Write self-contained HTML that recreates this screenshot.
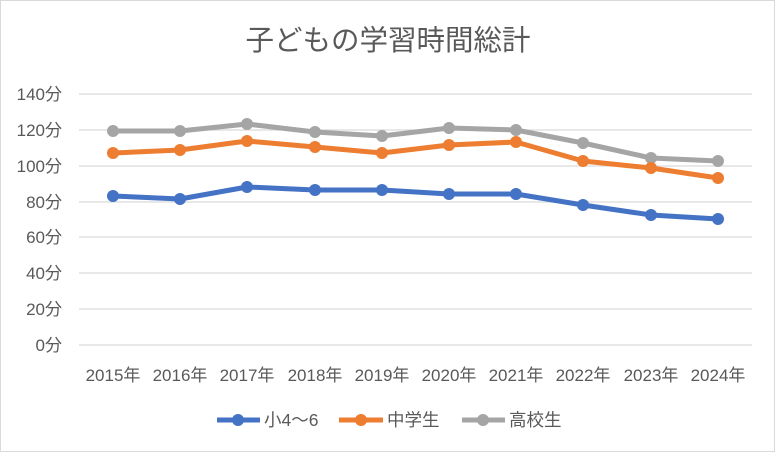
<!DOCTYPE html>
<html><head><meta charset="utf-8"><style>
body{margin:0;background:#fff}
svg{display:block;font-family:"Liberation Sans","Noto Sans CJK JP",sans-serif}
</style></head><body>
<svg width="775" height="452" viewBox="0 0 775 452">
<rect x="0.5" y="0.5" width="774" height="451" fill="#fff" stroke="#d9d9d9"/>
<text x="388" y="50" text-anchor="middle" font-size="28.5" fill="#595959">子どもの学習時間総計</text>
<g stroke="#d9d9d9" stroke-width="1.3">
<line x1="79" x2="752" y1="94" y2="94"/><line x1="79" x2="752" y1="130" y2="130"/>
<line x1="79" x2="752" y1="166" y2="166"/><line x1="79" x2="752" y1="202" y2="202"/>
<line x1="79" x2="752" y1="237" y2="237"/><line x1="79" x2="752" y1="273" y2="273"/>
<line x1="79" x2="752" y1="309" y2="309"/><line x1="79" x2="752" y1="345" y2="345"/>
</g>
<g font-size="17" fill="#595959" text-anchor="end">
<text x="62" y="100">140分</text><text x="62" y="136">120分</text><text x="62" y="172">100分</text>
<text x="62" y="208">80分</text><text x="62" y="243">60分</text><text x="62" y="279">40分</text>
<text x="62" y="315">20分</text><text x="62" y="351">0分</text>
</g>
<g font-size="17" fill="#595959" text-anchor="middle">
<text x="113" y="381">2015年</text><text x="180" y="381">2016年</text><text x="247" y="381">2017年</text>
<text x="315" y="381">2018年</text><text x="382" y="381">2019年</text><text x="449" y="381">2020年</text>
<text x="516" y="381">2021年</text><text x="583" y="381">2022年</text><text x="651" y="381">2023年</text>
<text x="718" y="381">2024年</text>
</g>
<g fill="none" stroke-width="5" stroke-linejoin="round">
<polyline stroke="#a5a5a5" points="113,131 180,131 247,124 315,132 382,136 449,128 516,130 583,143 651,158 718,161"/>
<polyline stroke="#ed7d31" points="113,153 180,150 247,141 315,147 382,153 449,145 516,142 583,161 651,168 718,178"/>
<polyline stroke="#4472c4" points="113,196 180,199 247,187 315,190 382,190 449,194 516,194 583,205 651,215 718,219"/>
</g>
<g fill="#a5a5a5"><circle cx="113" cy="131" r="6"/><circle cx="180" cy="131" r="6"/><circle cx="247" cy="124" r="6"/><circle cx="315" cy="132" r="6"/><circle cx="382" cy="136" r="6"/><circle cx="449" cy="128" r="6"/><circle cx="516" cy="130" r="6"/><circle cx="583" cy="143" r="6"/><circle cx="651" cy="158" r="6"/><circle cx="718" cy="161" r="6"/></g>
<g fill="#ed7d31"><circle cx="113" cy="153" r="6"/><circle cx="180" cy="150" r="6"/><circle cx="247" cy="141" r="6"/><circle cx="315" cy="147" r="6"/><circle cx="382" cy="153" r="6"/><circle cx="449" cy="145" r="6"/><circle cx="516" cy="142" r="6"/><circle cx="583" cy="161" r="6"/><circle cx="651" cy="168" r="6"/><circle cx="718" cy="178" r="6"/></g>
<g fill="#4472c4"><circle cx="113" cy="196" r="6"/><circle cx="180" cy="199" r="6"/><circle cx="247" cy="187" r="6"/><circle cx="315" cy="190" r="6"/><circle cx="382" cy="190" r="6"/><circle cx="449" cy="194" r="6"/><circle cx="516" cy="194" r="6"/><circle cx="583" cy="205" r="6"/><circle cx="651" cy="215" r="6"/><circle cx="718" cy="219" r="6"/></g>
<g stroke-width="5">
<line x1="217" x2="260" y1="420" y2="420" stroke="#4472c4"/><circle cx="238" cy="420" r="6" fill="#4472c4"/>
<line x1="339" x2="383" y1="420" y2="420" stroke="#ed7d31"/><circle cx="361" cy="420" r="6" fill="#ed7d31"/>
<line x1="462" x2="505" y1="420" y2="420" stroke="#a5a5a5"/><circle cx="483" cy="420" r="6" fill="#a5a5a5"/>
</g>
<g font-size="17.5" fill="#595959">
<text x="264" y="426">小4～6</text><text x="387" y="426">中学生</text><text x="509" y="426">高校生</text>
</g>
</svg>
</body></html>
